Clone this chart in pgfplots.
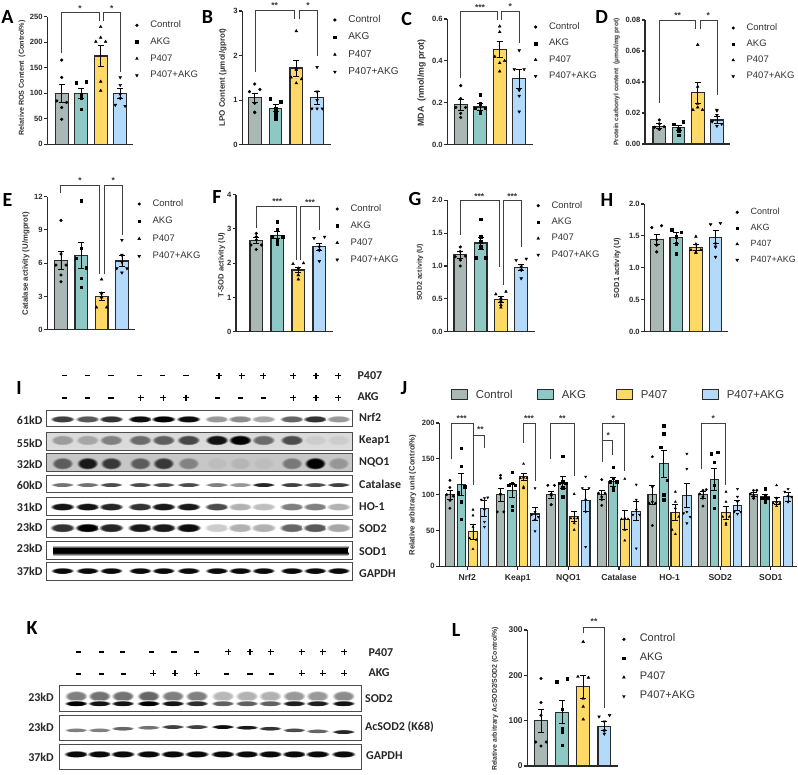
\documentclass[border=0pt]{standalone}
\usepackage{fontspec}
\usepackage{pgfplots}
\pgfplotsset{compat=1.18}
\setmainfont{Liberation Sans}
\newfontfamily\carl{Carlito}
\definecolor{cC}{HTML}{A9B8B5}
\definecolor{cA}{HTML}{8DC8C4}
\definecolor{cP}{HTML}{FFD966}
\definecolor{cQ}{HTML}{B4DAFB}
\definecolor{ink}{HTML}{2A2A2A}
\colorlet{bandc}{black}
\colorlet{bgcol}{white}
\pgfdeclareradialshading[bandc,bgcol]{band}{\pgfpointorigin}{color(0bp)=(bandc); color(17bp)=(bandc); color(25bp)=(bgcol); color(50bp)=(bgcol)}

\newcommand\setp[6]{\def\pL{#1}\def\pR{#2}\def\pT{#3}\def\pB{#4}%
  \pgfmathsetmacro\pW{#2-#1}\pgfmathsetmacro\pH{#4-#3}%
  \pgfmathsetmacro\xa{(#1-#5)/#6}\pgfmathsetmacro\xb{(#2-#5)/#6}}
\def\lgap{12pt}
\pgfplotsset{
  panel/.style={at={(\pL pt,-\pB pt)},anchor=south west,scale only axis,
    width=\pW pt,height=\pH pt,xmin=\xa,xmax=\xb,ymin=0,clip=false,
    axis x line*=bottom,axis y line*=left,xtick=\empty,
    axis line style={line width=1.3pt,ink},
    tick align=outside,major tick length=3.5pt,
    every tick/.style={line width=1.1pt,ink},
    /pgf/number format/assume math mode=true,
    scaled y ticks=false,
    yticklabel style={inner sep=1pt,font=\fontsize{7.6}{8}\selectfont\bfseries,text=ink},
  },
  dec/.style={yticklabel style={/pgf/number format/.cd,fixed,fixed zerofill,precision=#1}},
  leg/.style n args={4}{legend entries={Control,AKG,P407,P407+AKG},
    legend cell align=left,
    legend style={at={({(#1-1.5-\pL)/\pW},{(\pB-#2+4.5)/\pH})},anchor=north west,
      draw=none,fill=none,inner sep=0pt,outer sep=0pt,row sep=#3pt,
      font=\fontsize{#4}{#4}\selectfont,text=black!80,
      nodes={inner sep=0pt,text height=7pt,text depth=2pt},
      /tikz/every odd column/.append style={column sep=\lgap}}},
  lab/.style n args={3}{ylabel style={at={(axis description cs:{(#1-\pL)/\pW},{(\pB-#2)/\pH})},
      anchor=center,font={\fontsize{#3}{#3}\selectfont\bfseries},text=black!80}},
  mC/.style={only marks,mark=*,mark size=1.4pt,black,mark options={solid,fill=black}},
  mA/.style={only marks,mark=square*,mark size=1.3pt,black,mark options={solid,fill=black}},
  mP/.style={only marks,mark=triangle*,mark size=1.6pt,black,mark options={solid,fill=black}},
  mQ/.style={only marks,mark=triangle*,mark size=1.6pt,black,mark options={solid,fill=black,rotate=180}},
}
\def\dx{0.25}\def\bw{12.7}
% one bar with its error bar
\newcommand\gb[4]{\addplot[forget plot,ybar,bar width=\bw pt,bar shift=0pt,fill=#1,draw=ink,line width=1.1pt,
   error bars/.cd,y dir=both,y explicit,error bar style={line width=.8pt,black},
   error mark options={rotate=90,mark size=3pt,line width=.8pt,black}] coordinates {(#2,#3) +- (0,#4)};}
% six individual animals: two centred, one left, one right, two centred
\newcommand\six[8]{\addplot[#1] coordinates {(#2,#3)(#2,#4)({#2-\dx},#5)({#2+\dx},#6)(#2,#7)(#2,#8)};}
\newcommand\jsix[8]{\addplot[forget plot,#1,mark size=1.25pt] coordinates {(#2,#3)(#2,#4)({#2-\dx},#5)({#2+\dx},#6)(#2,#7)(#2,#8)};}

% annotation scope in 3x zoom pixels
\newenvironment{zs}[2]{\begin{scope}[shift={(#1pt,-#2pt)},x=0.33333pt,y=-0.33333pt,
   br/.style={draw=black!75,line width=.75pt,line join=miter}]}{\end{scope}}
\newcommand\st[3]{\node[font=\fontsize{8.5}{9}\selectfont\bfseries,inner sep=0pt,yshift=-2pt,text=black!80] at (#1,#2) {#3};}
\newcommand\plet[3]{\node[font=\carl\fontsize{20}{20}\selectfont\bfseries,inner sep=0pt] at (#1pt,-#2pt) {#3};}
\newcommand\blab[3]{\node[anchor=west,font=\carl\fontsize{12}{12}\selectfont\bfseries,inner sep=0pt,text=black!85] at (#1,#2) {#3};}
\newcommand\kd[3]{\node[anchor=east,font=\carl\fontsize{12}{12}\selectfont\bfseries,inner sep=0pt,text=black!85] at (#1,#2) {#3};}
\newcommand\minus[2]{\fill[black] ({#1-8},{#2-2.5}) rectangle ({#1+8},{#2+2.5});}
\newcommand\plus[2]{\fill[black] ({#1-9},{#2-1.8}) rectangle ({#1+9},{#2+1.8});\fill[black] ({#1-1.8},{#2-9}) rectangle ({#1+1.8},{#2+9});}
% one band: x,y,half width,half height,darkness %
\def\bglevel{0}
\newcommand\band[5]{\pgfmathtruncatemacro\lvl{\bglevel+#5*(100-\bglevel)/100}%
  \colorlet{bandc}{black!\lvl}\colorlet{bgcol}{black!\bglevel}%
  \shade[shading=band] (#1,#2) ellipse [x radius=#3,y radius=#4];}

\begin{document}
\begin{tikzpicture}
\path[use as bounding box] (0pt,0pt) rectangle (798pt,-775pt);

%% ---------- A
\setp{47.3}{133}{16.7}{144.3}{61.7}{19.5}
\begin{axis}[panel,ymax=250,ytick={0,50,100,150,200,250},ylabel={Relative ROS Content\ \ (Control\%)},
  lab={22}{78}{7.2},leg={137}{25.3}{7.7}{9.5}]
\gb{cC}{0}{100}{17}\six{mC}{0}{165}{131}{85}{82}{72}{49}
\gb{cA}{1}{100}{10}\six{mA}{1}{97}{69}{121}{123}{92}{90}
\gb{cP}{2}{173}{21}\six{mP}{2}{230}{209}{201}{201}{123}{105}
\gb{cQ}{3}{100}{10}\six{mQ}{3}{131}{116}{77}{75}{90}{98}
\end{axis}
%% ---------- B
\setp{242.3}{330.7}{11}{144.7}{254.7}{20.8}
\begin{axis}[panel,ymax=3,ytick={0,1,2,3},ylabel={LPO Content (µmol/gprot)},
  lab={222.7}{77.5}{8},leg={335}{20}{8.3}{10}]
\gb{cC}{0}{1.05}{.11}\six{mC}{0}{1.36}{.93}{1.19}{1.24}{.72}{.73}
\gb{cA}{1}{.82}{.08}\six{mA}{1}{.82}{.59}{1.03}{.96}{.74}{.65}
\gb{cP}{2}{1.72}{.18}\six{mP}{2}{2.55}{1.71}{1.51}{1.47}{1.68}{1.38}
\gb{cQ}{3}{1.05}{.15}\six{mQ}{3}{1.74}{1.19}{.81}{.81}{1.0}{.81}
\end{axis}
%% ---------- C
\setp{447.3}{533}{19}{144.7}{460.7}{19.5}
\begin{axis}[panel,dec=1,ymax=.6,ytick={0,.2,.4,.6},ylabel={MDA\ \ (nmol/mg prot)},
  lab={421.7}{83}{8.8},leg={535.7}{27}{7.4}{9.5}]
\gb{cC}{0}{.19}{.025}\six{mC}{0}{.282}{.22}{.178}{.178}{.15}{.13}
\gb{cA}{1}{.18}{.017}\six{mA}{1}{.24}{.197}{.174}{.174}{.153}{.15}
\gb{cP}{2}{.455}{.04}\six{mP}{2}{.565}{.538}{.42}{.40}{.39}{.35}
\gb{cQ}{3}{.315}{.045}\six{mQ}{3}{.45}{.26}{.36}{.36}{.233}{.158}
\end{axis}
%% ---------- D
\setp{645}{730}{20}{144}{659.3}{19.2}
\begin{axis}[panel,dec=2,ymax=.08,ytick={0,.02,.04,.06,.08},ylabel={Protein carbonyl content\ \ (µmol/mg prot)},
  lab={616.7}{82}{6.6},leg={733.3}{28}{7.1}{9.5}]
\gb{cC}{0}{.0115}{.0015}\six{mC}{0}{.0155}{.013}{.0108}{.0112}{.0095}{.0095}
\gb{cA}{1}{.0105}{.0017}\six{mA}{1}{.0101}{.0058}{.0127}{.0144}{.009}{.0086}
\gb{cP}{2}{.033}{.007}\six{mP}{2}{.064}{.037}{.022}{.022}{.026}{.0237}
\gb{cQ}{3}{.0155}{.002}\six{mQ}{3}{.022}{.0187}{.0144}{.0129}{.0215}{.0116}
\end{axis}
%% ---------- E
\setp{47.3}{135}{196.7}{329.7}{61}{20.3}
\begin{axis}[panel,ymax=12,ytick={0,3,6,9,12},ylabel={Catalase activity (U/mgprot)},
  lab={26}{263.8}{7.8},leg={139.3}{204}{8.4}{9.5}]
\gb{cC}{0}{6.25}{.85}\six{mC}{0}{9.86}{6.83}{5.83}{5.83}{4.93}{4.33}
\gb{cA}{1}{6.7}{1.15}\six{mA}{1}{11.64}{7.34}{6.44}{5.62}{4.63}{3.82}
\gb{cP}{2}{3.0}{.35}\six{mP}{2}{4.54}{3.28}{2.01}{2.01}{2.98}{2.92}
\gb{cQ}{3}{6.2}{.5}\six{mQ}{3}{8.09}{6.74}{5.53}{5.53}{6.1}{5.14}
\end{axis}
%% ---------- F
\setp{236}{333.3}{194.7}{331.7}{256.3}{21}
\begin{axis}[panel,ymax=4,ytick={0,1,2,3,4},ylabel={T-SOD activity (U)},
  lab={221.7}{265}{7.6},leg={337.3}{209}{7.9}{9.5}]
\gb{cC}{0}{2.67}{.08}\six{mC}{0}{2.87}{2.68}{2.53}{2.53}{2.77}{2.4}
\gb{cA}{1}{2.82}{.11}\six{mA}{1}{3.22}{2.99}{2.77}{2.77}{2.66}{2.56}
\gb{cP}{2}{1.8}{.08}\six{mP}{2}{1.85}{1.53}{1.98}{2.0}{1.65}{1.65}
\gb{cQ}{3}{2.48}{.1}\six{mQ}{3}{2.48}{2.06}{2.73}{2.77}{2.38}{2.38}
\end{axis}
%% ---------- G
\setp{447.3}{535}{200.3}{331.7}{460.3}{20.3}
\begin{axis}[panel,dec=1,ymax=2,ytick={0,.5,1,1.5,2},ylabel={SOD2 activity (U)},
  lab={420}{272.5}{7},leg={538.3}{205.7}{7.4}{9.5}]
\gb{cC}{0}{1.17}{.05}\six{mC}{0}{1.29}{1.22}{1.14}{1.15}{1.09}{1.0}
\gb{cA}{1}{1.35}{.09}\six{mA}{1}{1.71}{1.45}{1.13}{1.13}{1.37}{1.29}
\gb{cP}{2}{.49}{.04}\six{mP}{2}{.51}{.47}{.57}{.61}{.37}{.41}
\gb{cQ}{3}{.98}{.05}\six{mQ}{3}{.99}{.81}{1.09}{1.11}{.94}{.94}
\end{axis}
%% ---------- H
\setp{644.3}{728.3}{204}{331.7}{656.7}{19.6}
\begin{axis}[panel,dec=1,ymax=2,ytick={0,.5,1,1.5,2},ylabel={SOD1 activity (U)},
  lab={617.3}{268}{7.4},leg={737.3}{212.3}{6.9}{9}]
\gb{cC}{0}{1.45}{.08}\six{mC}{0}{1.44}{1.25}{1.63}{1.66}{1.36}{1.36}
\gb{cA}{1}{1.47}{.08}\six{mA}{1}{1.49}{1.22}{1.6}{1.56}{1.38}{1.38}
\gb{cP}{2}{1.32}{.05}\six{mP}{2}{1.49}{1.37}{1.28}{1.28}{1.24}{1.24}
\gb{cQ}{3}{1.48}{.1}\six{mQ}{3}{1.38}{1.17}{1.68}{1.70}{1.33}{1.33}
\end{axis}
%% ---------- J
\setp{439.3}{796.7}{423}{566.3}{467.2}{50.6}
\def\dx{0.065}\def\bw{8.7}
\begin{axis}[panel,ymax=200,ytick={0,50,100,150,200},ylabel={Relative arbitrary unit (Control\%)},
  lab={412.7}{495}{7.7},xtick={0,1,2,3,4,5,6},xticklabels={Nrf2,Keap1,NQO1,Catalase,HO-1,SOD2,SOD1},
  xticklabel style={font=\fontsize{8.6}{9}\selectfont\bfseries,text=ink,yshift=-1pt}]
\gb{cC}{-.341}{100}{6}\jsix{mC}{-.341}{120}{110}{100}{98}{92}{81}
\gb{cA}{-.114}{114}{15}\jsix{mA}{-.114}{165}{140}{103}{111}{90}{66}
\gb{cP}{.114}{48}{10}\jsix{mP}{.114}{79}{71}{39}{37}{55}{24}
\gb{cQ}{.341}{81}{11}\jsix{mQ}{.341}{95}{79}{93}{96}{55}{62}
\gb{cC}{.659}{100}{9}\jsix{mC}{.659}{127}{123}{76}{76}{101}{100}
\gb{cA}{.886}{106}{10}\jsix{mA}{.886}{131}{116}{113}{113}{84}{78}
\gb{cP}{1.114}{125}{5}\jsix{mP}{1.114}{143}{124}{123}{123}{111}{109}
\gb{cQ}{1.341}{73}{9}\jsix{mQ}{1.341}{109}{76}{72}{69}{65}{49}
\gb{cC}{1.659}{100}{5}\jsix{mC}{1.659}{101}{99}{113}{113}{86}{86}
\gb{cA}{1.886}{117}{8}\jsix{mA}{1.886}{154}{118}{116}{116}{110}{97}
\gb{cP}{2.114}{70}{7}\jsix{mP}{2.114}{101}{60}{67}{67}{67}{51}
\gb{cQ}{2.341}{92}{15}\jsix{mQ}{2.341}{125}{93}{109}{109}{76}{27}
\gb{cC}{2.659}{100}{6}\jsix{mC}{2.659}{121}{97}{102}{102}{93}{85}
\gb{cA}{2.886}{118}{6}\jsix{mA}{2.886}{138}{123}{118}{118}{110}{106}
\gb{cP}{3.114}{65}{13}\jsix{mP}{3.114}{122}{67}{66}{66}{51}{36}
\gb{cQ}{3.341}{77}{13}\jsix{mQ}{3.341}{114}{93}{72}{72}{79}{25}
\gb{cC}{3.659}{100}{13}\jsix{mC}{3.659}{153}{111}{88}{88}{90}{57}
\gb{cA}{3.886}{143}{19}\jsix{mA}{3.886}{196}{185}{166}{120}{100}{93}
\gb{cP}{4.114}{75}{11}\jsix{mP}{4.114}{104}{90}{51}{69}{81}{45}
\gb{cQ}{4.341}{99}{17}\jsix{mQ}{4.341}{157}{136}{74}{69}{76}{60}
\gb{cC}{4.659}{100}{5}\jsix{mC}{4.659}{106}{97}{101}{107}{95}{84}
\gb{cA}{4.886}{121}{15}\jsix{mA}{4.886}{145}{113}{157}{159}{97}{81}
\gb{cP}{5.114}{75}{9}\jsix{mP}{5.114}{104}{90}{69}{69}{60}{58}
\gb{cQ}{5.341}{85}{7}\jsix{mQ}{5.341}{108}{97}{76}{76}{90}{73}
\gb{cC}{5.659}{100}{3}\jsix{mC}{5.659}{106}{98}{101}{106}{95}{95}
\gb{cA}{5.886}{97}{4}\jsix{mA}{5.886}{108}{97}{95}{95}{90}{90}
\gb{cP}{6.114}{91}{5}\jsix{mP}{6.114}{113}{95}{88}{88}{84}{90}
\gb{cQ}{6.341}{97}{6}\jsix{mQ}{6.341}{108}{98}{104}{97}{90}{90}
\end{axis}
%% ---------- L
\setp{527.3}{618.3}{630}{766}{541}{21.1}
\def\dx{0.25}\def\bw{12.7}\def\lgap{14.5pt}
\begin{axis}[panel,ymax=300,ytick={0,100,200,300},ylabel={Relative arbitrary AcSOD2/SOD2 (Control\%)},
  lab={495}{699}{6.9},leg={624}{639.3}{10}{11},
  yticklabel style={font=\fontsize{8.4}{9}\selectfont\bfseries}]
\gb{cC}{0}{100}{25}\six{mC}{0}{193}{140}{53}{53}{112}{44}
\gb{cA}{1}{119}{25}\six{mA}{1}{125}{46}{186}{193}{82}{76}
\gb{cP}{2}{175}{25}\six{mP}{2}{274}{149}{197}{195}{131}{103}
\gb{cQ}{3}{88}{10}\six{mQ}{3}{98}{71}{109}{112}{78}{78}
\end{axis}

%% ---------- significance brackets
\begin{zs}{0}{0}
\draw[br] (185,160)--(185,38)--(297,38)--(297,62);\draw[br] (309,62)--(309,38)--(360,38)--(360,215);
\st{240}{20}{*}\st{335}{20}{*}
\draw[br] (765,215)--(765,32)--(883,32)--(883,58);\draw[br] (897,58)--(897,32)--(951,32)--(951,168);
\st{824}{12}{**}\st{924}{12}{*}
\end{zs}
\begin{zs}{400}{0}
\draw[br] (181,235)--(181,35)--(292,35)--(292,60);\draw[br] (304,60)--(304,35)--(357,35)--(357,130);
\st{240}{18}{***}\st{331}{15}{*}
\draw[br] (777,310)--(777,62)--(887,62)--(887,88);\draw[br] (900,88)--(900,62)--(951,62)--(951,285);
\st{833}{42}{**}\st{925}{40}{*}
\end{zs}
\begin{zs}{0}{180}
\draw[br] (182,40)--(182,17)--(299,17)--(299,283);\draw[br] (313,283)--(313,17)--(367,17)--(367,165);
\st{240}{-3}{*}\st{340}{-3}{*}
\draw[br] (768,145)--(768,80)--(889,80)--(889,240);\draw[br] (902,240)--(902,80)--(958,80)--(958,150);
\st{832}{60}{***}\st{930}{62}{***}
\end{zs}
\begin{zs}{400}{180}
\draw[br] (181,165)--(181,62)--(297,62)--(297,262);\draw[br] (310,315)--(310,62)--(363,62)--(363,200);
\st{238}{45}{***}\st{337}{45}{***}
\end{zs}
\begin{zs}{400}{370}
\draw[br] (155,268)--(155,159)--(219,159)--(219,345);\draw[br] (219,195)--(253,195)--(253,235);
\st{185}{139}{***}\st{241}{174}{**}
\draw[br] (370,218)--(370,159)--(405,159)--(405,332);\st{387}{139}{***}
\draw[br] (452,268)--(452,159)--(523,159)--(523,318);\st{487}{140}{**}
\draw[br] (608,275)--(608,159)--(673,159)--(673,302);\st{640}{140}{*}
\draw[br] (610,212)--(638,212)--(638,255);\st{625}{192}{*}
\draw[br] (905,298)--(905,159)--(976,159)--(976,345);\st{940}{140}{*}
% legend of J
\foreach \xx/\cc/\tt in {155/cC/Control,413/cA/AKG,650/cP/P407,908/cQ/P407+AKG}{
  \draw[fill=\cc,draw=ink,line width=1pt] (\xx,58) rectangle ({\xx+47},88);
  \node[anchor=west,inner sep=0pt,font=\fontsize{11.4}{12}\selectfont,text=black!80] at ({\xx+72},73) {\tt};}
\end{zs}
\begin{zs}{470}{610}
\draw[br] (340,70)--(340,53)--(403,53)--(403,295);\st{372}{30}{**}
\end{zs}

%% ---------- panel I blot
\begin{zs}{0}{360}
\foreach \x in {193,262,333,418,488,558}{\minus{\x}{47}}
\foreach \x in {657,725,790,880,948,1015}{\plus{\x}{47}}
\foreach \x in {193,262,333,652,722,790}{\minus{\x}{115}}
\foreach \x in {422,490,558,880,948,1015}{\plus{\x}{113}}
\blab{1072}{47}{P407}\blab{1072}{110}{AKG}
% Nrf2
\draw[black!70,line width=.7pt] (140,152) rectangle (1057,200);
\foreach \x/\i in {187/75,262/65,333/80,420/95,490/100,565/95,650/40,720/45,790/35,875/60,945/80,1015/40}{\band{\x}{177}{38}{11}{\i}}
% Keap1
\def\bglevel{14}
\draw[black!70,line width=.7pt,fill=black!14] (140,217) rectangle (1057,272);
\foreach \x/\i in {187/30,262/25,333/42,420/52,490/58,565/68,650/92,720/100,790/52,875/66,945/8,1015/8}{\band{\x}{240}{36}{16}{\i}}
% NQO1
\def\bglevel{22}
\draw[black!70,line width=.7pt,fill=black!22] (140,281) rectangle (1057,335);
\foreach \x/\i in {187/55,262/88,333/72,420/55,490/72,565/35,650/6,720/9,790/6,875/40,945/100,1015/25}{\band{\x}{310}{33}{19}{\i}}
\def\bglevel{0}
% Catalase
\draw[black!70,line width=.7pt] (140,347) rectangle (1057,398);
\foreach \x/\i in {187/55,262/55,333/70,420/70,490/70,565/70,650/50,720/40,790/85,875/75,945/70,1015/75}{\band{\x}{374}{36}{7}{\i}}
% HO-1
\draw[black!70,line width=.7pt] (140,412) rectangle (1057,467);
\foreach \x/\i in {187/92,262/92,333/85,420/80,490/90,565/90,650/70,720/30,790/25,875/50,945/50,1015/30}{\band{\x}{440}{38}{12}{\i}}
% SOD2
\draw[black!70,line width=.7pt] (140,478) rectangle (1057,532);
\foreach \x/\i in {187/80,262/100,333/85,420/90,490/90,565/95,650/20,720/30,790/30,875/60,945/65,1015/35}{\band{\x}{503}{39}{14}{\i}}
% SOD1
\draw[black!70,line width=.7pt] (140,544) rectangle (1057,598);
\shade[top color=white,bottom color=black] (160,555) rectangle (1045,565);
\fill[black] (160,565) rectangle (1045,578);
\shade[top color=black,bottom color=white] (160,578) rectangle (1045,588);
% GAPDH
\draw[black!70,line width=.7pt] (140,608) rectangle (1057,662);
\foreach \x in {187,262,333,420,490,565,650,720,790,875,945,1015}{\band{\x}{632}{36}{10}{96}}
\foreach \y/\t in {182/61kD,250/55kD,313/32kD,375/60kD,442/31kD,503/23kD,565/23kD,633/37kD}{\kd{128}{\y}{\t}}
\foreach \y/\t in {172/Nrf2,243/Keap1,308/NQO1,373/Catalase,440/HO-1,507/SOD2,574/SOD1,640/GAPDH}{\blab{1077}{\y}{\t}}
\end{zs}

%% ---------- panel K blot
\begin{zs}{0}{610}
\foreach \x in {235,305,368,455,522,590}{\minus{\x}{125}}
\foreach \x in {685,750,812,905,968,1033}{\plus{\x}{125}}
\foreach \x in {235,305,370,680,750,815}{\minus{\x}{192}}
\foreach \x in {460,525,590,905,968,1033}{\plus{\x}{190}}
\blab{1105}{127}{P407}\blab{1105}{187}{AKG}
\draw[black!70,line width=.7pt] (178,227) rectangle (1083,305);
\foreach \x/\i in {228/50,298/55,368/55,445/60,518/50,590/50,668/28,740/30,810/30,882/40,952/40,1030/45}{\band{\x}{258}{35}{17}{\i}}
\foreach \x/\i in {228/100,298/92,368/92,445/100,518/92,590/82,668/62,740/62,810/62,882/88,952/88,1030/92}{\band{\x}{280}{36}{9}{\i}}
\draw[black!70,line width=.7pt] (178,315) rectangle (1083,390);
\foreach \x/\y/\i in {228/360/50,298/360/50,368/355/60,445/352/55,518/350/75,590/350/75,668/350/95,740/352/90,810/355/80,882/360/70,952/363/60,1030/365/85}{\band{\x}{\y}{36}{7}{\i}}
\draw[black!70,line width=.7pt] (178,402) rectangle (1083,478);
\foreach \x in {228,298,368,445,518,590,668,740,810,882,952,1030}{\band{\x}{432}{38}{11}{96}}
\kd{162}{263}{23kD}\kd{162}{352}{23kD}\kd{162}{443}{37kD}
\blab{1095}{265}{SOD2}\blab{1095}{352}{AcSOD2 (K68)}\blab{1098}{438}{GAPDH}
\end{zs}

%% ---------- panel letters
\plet{7.5}{17.5}{A}\plet{207.5}{17}{B}\plet{406.7}{19}{C}\plet{601.7}{17.5}{D}
\plet{7.5}{200}{E}\plet{217}{197}{F}\plet{415}{199}{G}\plet{607}{200}{H}
\plet{19}{388}{I}\plet{404}{388}{J}\plet{32}{628}{K}\plet{456}{630}{L}
\end{tikzpicture}
\end{document}
